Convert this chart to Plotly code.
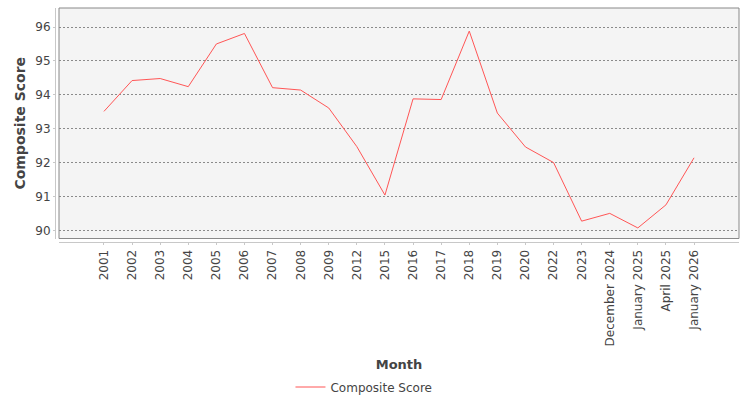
import plotly.graph_objects as go

months = ["2001", "2002", "2003", "2004", "2005", "2006", "2007", "2008", "2009",
          "2012", "2015", "2016", "2017", "2018", "2019", "2020", "2022", "2023",
          "December 2024", "January 2025", "April 2025", "January 2026"]
composite_score = [93.51, 94.42, 94.48, 94.24, 95.50, 95.81, 94.21, 94.14, 93.61,
                   92.47, 91.04, 93.88, 93.86, 95.88, 93.46, 92.46, 92.00, 90.27,
                   90.50, 90.07, 90.75, 92.14]
y_ticks = [90, 91, 92, 93, 94, 95, 96]

W, H = 750, 400
ML, MR, MT, MB = 55, 11, 8, 158
pw = W - ML - MR
ph = H - MT - MB
dx = 4 / pw
dy = 3.5 / ph

FONT = "DejaVu Sans"
TXT = "#444444"

fig = go.Figure()
fig.add_trace(go.Scatter(
    x=months, y=composite_score, mode="lines", name="Composite Score",
    line=dict(color="#ff5555", width=1),
))

fig.update_layout(
    width=W, height=H,
    margin=dict(l=ML, r=MR, t=MT, b=MB, autoexpand=False),
    paper_bgcolor="white",
    plot_bgcolor="#f4f4f4",
    font=dict(family=FONT, size=12, color=TXT),
    showlegend=True,
    legend=dict(orientation="h", xref="container", yref="container",
                x=0.4853, xanchor="center", y=0.0325, yanchor="middle",
                font=dict(family=FONT, size=12, color=TXT),
                bgcolor="rgba(0,0,0,0)"),
    xaxis=dict(
        domain=[dx, 1], anchor="free", position=0,
        type="category", range=[-1.6, 22.6],
        showline=True, linecolor="#c8c8c8", linewidth=1,
        ticks="outside", ticklen=2, tickcolor="#c8c8c8",
        tickangle=-90, tickfont=dict(family=FONT, size=12, color=TXT),
        showgrid=False, zeroline=False,
        title=dict(text="<b>Month</b>", font=dict(family=FONT, size=13, color=TXT), standoff=24),
        automargin=False,
    ),
    yaxis=dict(
        domain=[dy, 1], anchor="free", position=0,
        range=[89.758, 96.562], tickvals=y_ticks,
        showline=True, linecolor="#c8c8c8", linewidth=1,
        ticks="outside", ticklen=2, tickcolor="#c8c8c8",
        tickfont=dict(family=FONT, size=12, color=TXT),
        showgrid=True, gridcolor="#8a8a8a", griddash="2px,2px", gridwidth=1,
        zeroline=False,
        title=dict(text="<b>Composite Score</b>", font=dict(family=FONT, size=14, color=TXT), standoff=5),
        automargin=False,
    ),
    shapes=[dict(type="rect", xref="paper", yref="paper", x0=dx, x1=1, y0=dy, y1=1,
                 line=dict(color="#888888", width=1), fillcolor="rgba(0,0,0,0)", layer="above")],
)

fig.write_html("out.html")
